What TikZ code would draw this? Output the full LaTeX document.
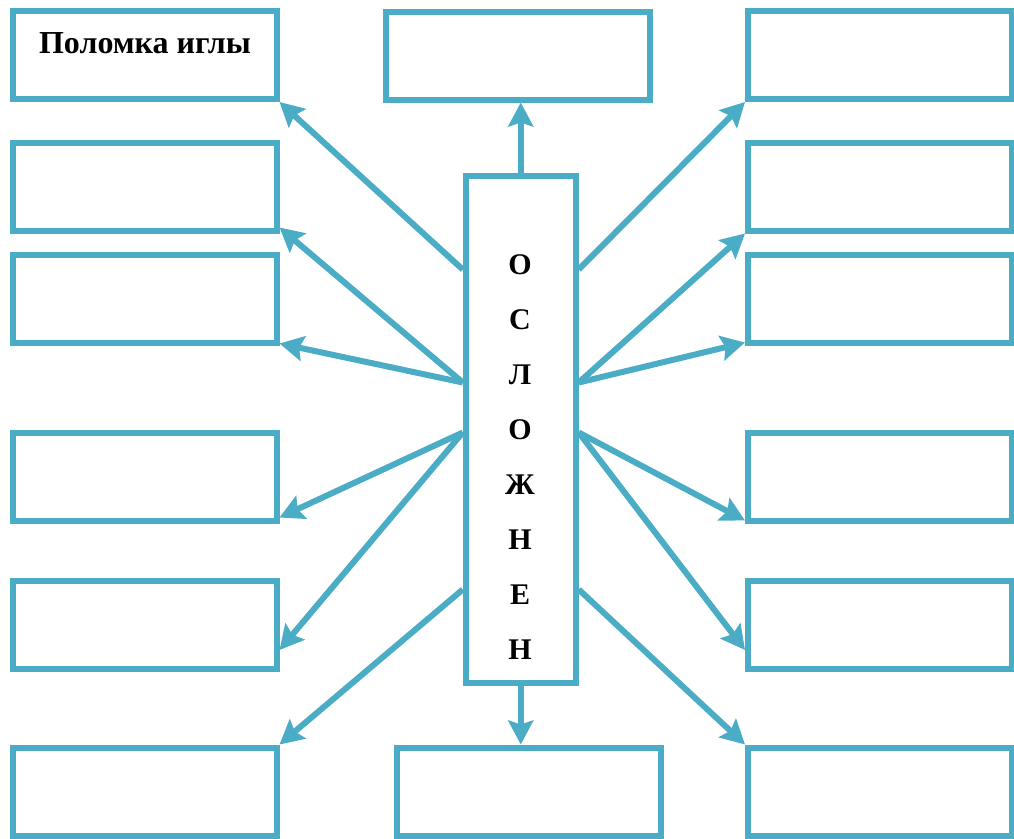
\documentclass[tikz,border=0pt]{standalone}
\usepackage{fontspec}
\setmainfont{Liberation Serif}
\usetikzlibrary{arrows.meta,positioning,calc}
\definecolor{frame}{HTML}{4BACC6}

\begin{document}
\begin{tikzpicture}[x=1pt, y=-1pt,
  cell/.style={rectangle, draw=frame, line width=6pt, minimum width=264pt, minimum height=88pt, inner sep=0pt},
  arr/.style={-{Stealth[length=24pt,width=25pt,inset=4pt]}, draw=frame, line width=6pt},
  letter/.style={font=\fontsize{30}{34}\selectfont\bfseries, inner sep=0pt}
]
  \useasboundingbox (0,0) rectangle (1014,838);
  % side boxes
  \foreach \nm/\yy in {1/55,2/186.5,3/298.5,4/476.5,5/625,6/791.5}{
    \node[cell] (L\nm) at (144.5,\yy) {};
    \node[cell] (R\nm) at (880,\yy) {};
  }
  \node[cell] (top) at (517.5,55.5) {};
  \node[cell] (bot) at (528.5,791.5) {};
  \node[cell, minimum width=110pt, minimum height=507pt] (core) at (520.75,429.5) {};
  \node[anchor=base, font=\fontsize{32}{36}\selectfont\bfseries] (needle) at (145,53) {Поломка иглы};
  \foreach \ch [count=\i] in {О,С,Л,О,Ж,Н,Е,Н}
    \node[letter] (ch\i) at (520,210+55*\i) {\ch};
  % start points on the middle box
  \coordinate (wA) at ($(core.west)+(0,-160)$);
  \coordinate (wB) at ($(core.west)+(0,-47)$);
  \coordinate (wC) at ($(core.west)+(0,3)$);
  \coordinate (wD) at ($(core.west)+(0,160)$);
  \coordinate (eA) at ($(core.east)+(0,-160)$);
  \coordinate (eB) at ($(core.east)+(0,-47)$);
  \coordinate (eC) at ($(core.east)+(0,3)$);
  \coordinate (eD) at ($(core.east)+(0,160)$);
  % arrows
  \draw[arr] (core.north) -- (core.north |- top.south);
  \draw[arr] (core.south) -- (core.south |- bot.north);
  \draw[arr] (wA) -- (L1.south east);
  \draw[arr] (wB) -- ($(L2.south east)+(0,-6)$);
  \draw[arr] (wB) -- ($(L3.south east)+(0,-2)$);
  \draw[arr] (wC) -- ($(L4.south east)+(0,-6)$);
  \draw[arr] (wC) -- ($(L5.east)+(0,25)$);
  \draw[arr] (wD) -- (L6.north east);
  \draw[arr] (eA) -- (R1.south west);
  \draw[arr] (eB) -- (R2.south west);
  \draw[arr] (eB) -- ($(R3.south west)+(0,-3)$);
  \draw[arr] (eC) -- ($(R4.south west)+(0,-3)$);
  \draw[arr] (eC) -- ($(R5.west)+(0,25)$);
  \draw[arr] (eD) -- (R6.north west);
\end{tikzpicture}
\end{document}
